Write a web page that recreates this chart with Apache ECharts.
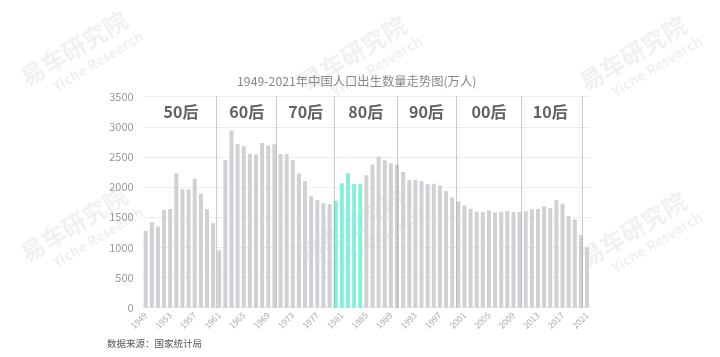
<!DOCTYPE html>
<html><head><meta charset="utf-8">
<script src="https://cdn.jsdelivr.net/npm/echarts@6/dist/echarts.min.js"></script>
<style>html,body{margin:0;padding:0;background:#fff}#c{width:720px;height:357px}</style>
</head><body><div id="c"></div>
<script>
const years = ['1949','1950','1951','1952','1953','1954','1955','1956','1957','1958','1959',
'1960','1961','1962','1963','1964','1965','1966','1967','1968','1969',
'1970','1971','1972','1973','1974','1975','1976','1977','1978','1979',
'1980','1981','1982','1983','1984','1985','1986','1987','1988','1989',
'1990','1991','1992','1993','1994','1995','1996','1997','1998','1999',
'2000','2001','2002','2003','2004','2005','2006','2007','2008','2009',
'2010','2011','2012','2013','2014','2015','2016','2017','2018','2019',
'2020','2021'];
const births = [1275,1419,1349,1622,1637,2232,1965,1961,2138,1889,1635,
1402,949,2451,2934,2721,2679,2554,2543,2731,2690,
2710,2551,2550,2447,2226,2102,1849,1783,1733,1715,
1776,2064,2230,2052,2050,2196,2374,2508,2445,2396,
2374,2250,2113,2120,2098,2052,2057,2028,1934,1827,
1765,1696,1641,1594,1588,1612,1581,1591,1604,1587,
1588,1600,1635,1640,1683,1655,1786,1723,1523,1465,
1202,1000];
const highlightYears = ['1980','1981','1982','1983','1984'];
const yMin = 0, yMax = 3500, yInterval = 500;
const eraLabels = ['50后','60后','70后','80后','90后','00后','10后'];
const eraLabelX = [5.76, 16.5, 26.1, 35.9, 45.8, 56, 66];
const eraLabelY = 3245;
const dividerX = [11.58, 21.3, 30.8, 41.05, 50.6, 61.3, 71.2];
const titleText = '1949-2021年中国人口出生数量走势图(万人)';
const sourceText = '数据来源：国家统计局';

const chart = echarts.init(document.getElementById('c'), null, {renderer: 'canvas'});
const FONT = '"Noto Sans CJK SC", "Noto Sans", sans-serif';

const barData = births.map((v, i) => highlightYears.indexOf(years[i]) >= 0
  ? {value: v, itemStyle: {color: '#82f0da'}}
  : v);

const wmPos = [[76,52],[355,57],[635,57],[76,228],[355,230],[635,233]];
const watermarks = wmPos.map(p => ({
  type: 'group', x: p[0], y: p[1], rotation: 31 * Math.PI / 180, z: 100, silent: true,
  children: [
    {type: 'text', x: 0, y: -4, style: {text: '易车研究院', fontSize: 24, fontWeight: 'bold', fontFamily: FONT,
      fill: 'rgba(228,228,228,0.5)', align: 'center', verticalAlign: 'middle'}},
    {type: 'text', x: 14, y: 19, style: {text: 'Yiche Research', fontSize: 14, fontWeight: 'bold', fontFamily: FONT,
      fill: 'rgba(228,228,228,0.5)', align: 'center', verticalAlign: 'middle'}}
  ]
}));

chart.setOption({
  animation: false,
  backgroundColor: '#fff',
  textStyle: {fontFamily: FONT},
  title: {text: titleText, left: 232, top: 70,
    textStyle: {fontSize: 12.3, fontWeight: 'normal', color: '#888', fontFamily: FONT}},
  graphic: [
    {type: 'text', left: 107, top: 339, style: {text: sourceText, fontSize: 9.5, fill: '#555', fontFamily: FONT}}
  ].concat(watermarks),
  grid: {left: 142.6, right: 129.9, top: 96.7, bottom: 49.3, containLabel: false},
  xAxis: [
    {type: 'category', data: years, boundaryGap: true,
      axisLine: {show: true, lineStyle: {color: '#e6e6e6'}},
      axisTick: {show: false},
      axisLabel: {interval: 3, rotate: 45, fontSize: 8.5, color: '#aaa', margin: 6}},
    {type: 'value', min: -0.5, max: 72.5, show: false}
  ],
  yAxis: {type: 'value', min: yMin, max: yMax, interval: yInterval,
    axisLine: {show: false}, axisTick: {show: false},
    axisLabel: {fontSize: 11, color: '#999', margin: 9, formatter: v => String(v)},
    splitLine: {lineStyle: {color: '#efefef'}}},
  series: [
    {type: 'bar', data: barData, barWidth: 4, itemStyle: {color: '#cfd1d4'}, z: 2},
    {type: 'scatter', xAxisIndex: 1, symbolSize: 0, z: 5,
      data: eraLabels.map((t, i) => ({value: [eraLabelX[i], eraLabelY], name: t})),
      label: {show: true, position: 'inside', formatter: p => p.name,
        fontSize: 16, fontWeight: 'bold', color: '#3a3a3a', fontFamily: FONT},
      markLine: {silent: true, symbol: 'none', label: {show: false},
        lineStyle: {type: 'dotted', color: '#999', width: 1},
        data: dividerX.map(x => ({xAxis: x}))}
    }
  ]
});
</script></body></html>
